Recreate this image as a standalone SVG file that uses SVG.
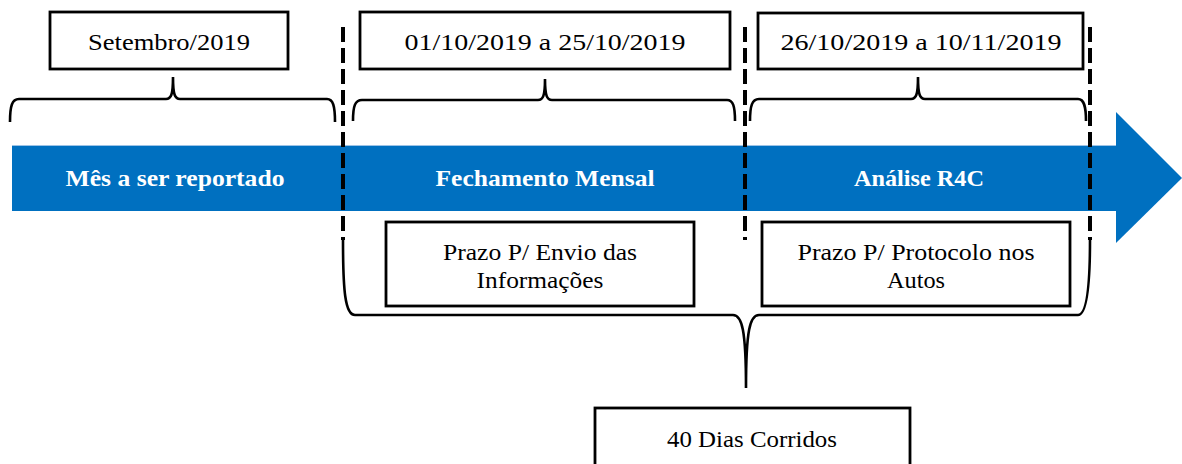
<svg xmlns="http://www.w3.org/2000/svg" width="1182" height="464" viewBox="0 0 1182 464">
<style>
.box{fill:#fff;stroke:#000;stroke-width:2.8}
.t{font-family:"Liberation Serif","Times New Roman",serif;font-size:24px;fill:#000;text-anchor:middle}
.b{font-family:"Liberation Serif","Times New Roman",serif;font-size:24px;font-weight:bold;fill:#fff;text-anchor:middle}
.brace{fill:none;stroke:#000;stroke-width:2.6}
.dash{fill:none;stroke:#000;stroke-width:4;stroke-dasharray:15 6}
</style>
<g id="arrow">
<rect x="12" y="145" width="1105" height="66" fill="#0070C0"/>
<line x1="12" y1="145.5" x2="1116" y2="145.5" stroke="#9DC3E6" stroke-width="1"/>
<polygon points="1116,112 1182,178 1116,243" fill="#0070C0"/>
<text class="b" x="175" y="186" textLength="219" lengthAdjust="spacingAndGlyphs">Mês a ser reportado</text>
<text class="b" x="545" y="186" textLength="219" lengthAdjust="spacingAndGlyphs">Fechamento Mensal</text>
<text class="b" x="919" y="186" textLength="130" lengthAdjust="spacingAndGlyphs">Análise R4C</text>
</g>
<g id="connectors">
<path class="brace" d="M10,122 C10,106 12,99 19,99 L166,99 C171,99 173,95 173,77 C173,95 175,99 180,99 L327,99 C333,99 335,106 335,122"/>
<path class="brace" d="M353,121 C353,106 355,100 362,100 L538,100 C543,100 545,96 545,79 C545,96 547,100 552,100 L727,100 C733,100 735,106 735,121"/>
<path class="brace" d="M750,121 C750,106 752,99 759,99 L911,99 C916,99 918,95 918,77 C918,95 920,99 925,99 L1078,99 C1084,99 1086,106 1086,121"/>
<path class="brace" d="M343,240 C343,290 345,315 355,315 L733,315 C742,315 746,330 746,388 C746,330 750,315 759,315 L1078,315 C1086,315 1090,290 1090,240"/>
<line class="dash" x1="343" y1="27" x2="343" y2="240"/>
<line class="dash" x1="745" y1="27" x2="745" y2="240"/>
<line class="dash" x1="1090" y1="27" x2="1090" y2="240"/>
</g>
<g id="setembro">
<rect class="box" x="50" y="12" width="238" height="57"/>
<text class="t" x="169" y="50" textLength="162" lengthAdjust="spacingAndGlyphs">Setembro/2019</text>
</g>
<g id="periodo1">
<rect class="box" x="360" y="12" width="370" height="57"/>
<text class="t" x="545" y="50" textLength="281" lengthAdjust="spacingAndGlyphs">01/10/2019 a 25/10/2019</text>
</g>
<g id="periodo2">
<rect class="box" x="758" y="13" width="325" height="56"/>
<text class="t" x="921" y="50" textLength="281" lengthAdjust="spacingAndGlyphs">26/10/2019 a 10/11/2019</text>
</g>
<g id="prazo1">
<rect class="box" x="386" y="222" width="308" height="84"/>
<text class="t" x="540" y="260" textLength="194" lengthAdjust="spacingAndGlyphs">Prazo P/ Envio das</text>
<text class="t" x="540" y="288" textLength="127" lengthAdjust="spacingAndGlyphs">Informações</text>
</g>
<g id="prazo2">
<rect class="box" x="762" y="222" width="308" height="84"/>
<text class="t" x="916" y="260" textLength="237" lengthAdjust="spacingAndGlyphs">Prazo P/ Protocolo nos</text>
<text class="t" x="916" y="288" textLength="58" lengthAdjust="spacingAndGlyphs">Autos</text>
</g>
<g id="dias">
<rect class="box" x="595" y="408" width="315" height="64"/>
<text class="t" x="752" y="447" textLength="170" lengthAdjust="spacingAndGlyphs">40 Dias Corridos</text>
</g>
</svg>
